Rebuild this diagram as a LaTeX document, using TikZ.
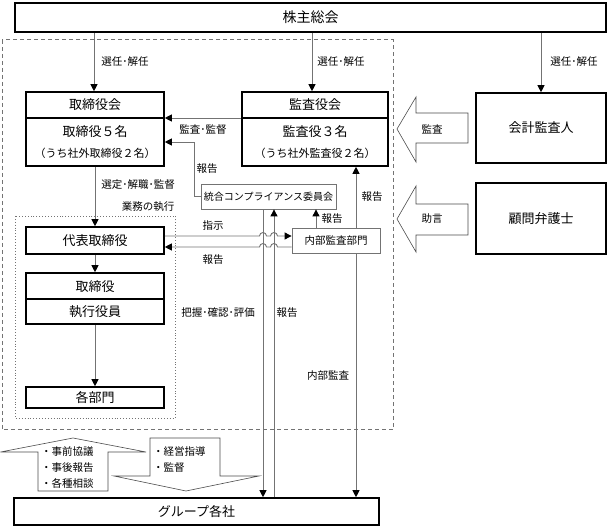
\documentclass[tikz,border=0pt]{standalone}
\usepackage{fontspec}
\setmainfont{Noto Sans CJK JP}
\usetikzlibrary{arrows.meta}
\begin{document}
\begin{tikzpicture}[x=1pt,y=1pt,
  bigbox/.style={draw=black,line width=1.6pt,fill=white,inner sep=0pt},
  thinbox/.style={draw=black!55,line width=0.8pt,fill=white,inner sep=0pt},
  conn/.style={draw=black!55,line width=0.9pt},
  arr/.style={-{Triangle[length=7pt,width=7pt,color=black]}},
  lbl/.style={font=\fontsize{10.5}{12}\selectfont,inner sep=0pt},
  ttl/.style={font=\fontsize{13}{15}\selectfont,inner sep=0pt},
  subtxt/.style={font=\fontsize{11}{13}\selectfont,inner sep=0pt},
  blockarrow/.style={draw=black!70,line width=0.6pt,fill=white}]
\useasboundingbox (0,0) rectangle (608,-526);

% frames
\draw[draw=black!55,line width=1pt,dash pattern=on 4pt off 3pt] (2,-40) rectangle (393,-430);
\draw[draw=black!55,line width=0.9pt,dotted] (15,-216) rectangle (175,-418);

% boxes
\node[bigbox,minimum width=591pt,minimum height=29pt,font=\fontsize{14}{16}\selectfont] (kabu) at (310.5,-17.5) {株主総会};

\node[bigbox,minimum width=138pt,minimum height=74pt] (trb) at (95,-129) {};
\draw[line width=1.6pt] (trb.west |- 0,-118) -- (trb.east |- 0,-118);
\node[ttl] (trbt) at (95,-105) {取締役会};
\node[ttl] (trbn) at (95,-132) {取締役５名};
\node[subtxt] (trbs) at (95,-153) {（うち社外取締役２名）};

\node[bigbox,minimum width=146pt,minimum height=74pt] (kan) at (315,-129) {};
\draw[line width=1.6pt] (kan.west |- 0,-118) -- (kan.east |- 0,-118);
\node[ttl] (kant) at (315,-105) {監査役会};
\node[ttl] (kann) at (315,-132) {監査役３名};
\node[subtxt] (kans) at (315,-153) {（うち社外監査役２名）};

\node[bigbox,minimum width=130pt,minimum height=70pt,font=\fontsize{13}{15}\selectfont] (kaikei) at (541,-128) {会計監査人};
\node[bigbox,minimum width=130pt,minimum height=71pt,font=\fontsize{13}{15}\selectfont] (komon) at (541,-218.5) {顧問弁護士};

\node[thinbox,minimum width=135pt,minimum height=25pt,font=\fontsize{10}{12}\selectfont] (togo) at (268.5,-196.5) {統合コンプライアンス委員会};
\node[thinbox,minimum width=88pt,minimum height=25pt,font=\fontsize{10.5}{12}\selectfont] (nai) at (336,-240.5) {内部監査部門};

\node[bigbox,minimum width=138pt,minimum height=27pt,font=\fontsize{13}{15}\selectfont] (dai) at (95,-240.5) {代表取締役};

\node[bigbox,minimum width=138pt,minimum height=51pt] (shikko) at (95,-298.5) {};
\draw[line width=1.6pt] (shikko.west |- 0,-299) -- (shikko.east |- 0,-299);
\node[ttl] (shikkot) at (95,-286.5) {取締役};
\node[ttl] (shikkob) at (95,-312) {執行役員};

\node[bigbox,minimum width=138pt,minimum height=21pt,font=\fontsize{13}{15}\selectfont] (kakubu) at (95,-397.5) {各部門};

\node[bigbox,minimum width=365pt,minimum height=27pt,font=\fontsize{13}{15}\selectfont] (grp) at (196.5,-511.5) {グループ各社};

% block arrows
\draw[blockarrow] (397,-129) -- (416,-97) -- (416,-113) -- (468,-113) -- (468,-143) -- (416,-143) -- (416,-162) -- cycle;
\node[lbl] (lkansa) at (432,-129) {監査};
\draw[blockarrow] (397,-219) -- (416,-186) -- (416,-204) -- (468,-204) -- (468,-235) -- (416,-235) -- (416,-252) -- cycle;
\node[lbl] (ljogen) at (432,-219) {助言};

\draw[blockarrow] (73,-438) -- (146,-452) -- (108,-452) -- (108,-491) -- (38,-491) -- (38,-452) -- (0.5,-452) -- cycle;
\draw[blockarrow] (150,-438) -- (220,-438) -- (220,-476) -- (259,-476) -- (186,-491) -- (114,-476) -- (150,-476) -- cycle;
\node[lbl,anchor=west] (b1) at (41,-452) {・事前協議};
\node[lbl,anchor=west] (b2) at (41,-467.5) {・事後報告};
\node[lbl,anchor=west] (b3) at (41,-483) {・各種相談};
\node[lbl,anchor=west] (b4) at (153,-452) {・経営指導};
\node[lbl,anchor=west] (b5) at (153,-467.5) {・監督};

% connectors
\draw[conn,arr] (kabu.south -| 94,0) -- (trb.north -| 94,0);
\draw[conn,arr] (kabu.south -| 312,0) -- (kan.north -| 312,0);
\draw[conn,arr] (kabu.south -| 541,0) -- (kaikei.north -| 541,0);
\draw[conn,arr] (kan.west |- 0,-118) -- (trb.east |- 0,-118);
\draw[conn,arr] (togo.west) -- (194,-196.5) -- (194,-142) -- (trb.east |- 0,-142);
\draw[conn,arr] (trb.south) -- (dai.north);
\draw[conn,arr] (dai.south) -- (shikko.north);
\draw[conn,arr] (shikko.south) -- (kakubu.north);

\draw[conn,arr] (togo.south -| 263,0) -- (grp.north -| 263,0);
\draw[conn,arr] (grp.north -| 274,0) -- (togo.south -| 274,0);
\draw[conn,arr] (nai.north -| 316,0) -- (togo.south -| 316,0);
\draw[conn,arr] (nai.north -| 356,0) -- (kan.south -| 356,0);
\draw[conn,arr] (nai.south -| 356,0) -- (grp.north -| 356,0);

\draw[conn,arr] (dai.east |- 0,-236) -- (259.5,-236) arc[start angle=180,end angle=0,radius=3.5pt] -- (270.5,-236) arc[start angle=180,end angle=0,radius=3.5pt] -- (nai.west |- 0,-236);
\draw[conn,arr] (nai.west |- 0,-247) -- (277.5,-247) arc[start angle=0,end angle=180,radius=3.5pt] -- (266.5,-247) arc[start angle=0,end angle=180,radius=3.5pt] -- (dai.east |- 0,-247);

% labels
\node[lbl] (l1) at (125,-62) {選任･解任};
\node[lbl] (l2) at (341,-62) {選任･解任};
\node[lbl] (l3) at (574,-62) {選任･解任};
\node[lbl] (l4) at (203,-130) {監査･監督};
\node[lbl] (l5) at (207,-169) {報告};
\node[lbl] (l6) at (138,-185) {選定･解職･監督};
\node[lbl] (l7) at (148,-207) {業務の執行};
\node[lbl] (l8) at (213,-226) {指示};
\node[lbl] (l9) at (213,-260) {報告};
\node[lbl] (l10) at (332,-218.5) {報告};
\node[lbl] (l11) at (372,-197) {報告};
\node[lbl] (l12) at (218,-313) {把握･確認･評価};
\node[lbl] (l13) at (287,-313) {報告};
\node[lbl] (l14) at (328,-376) {内部監査};
\end{tikzpicture}
\end{document}
